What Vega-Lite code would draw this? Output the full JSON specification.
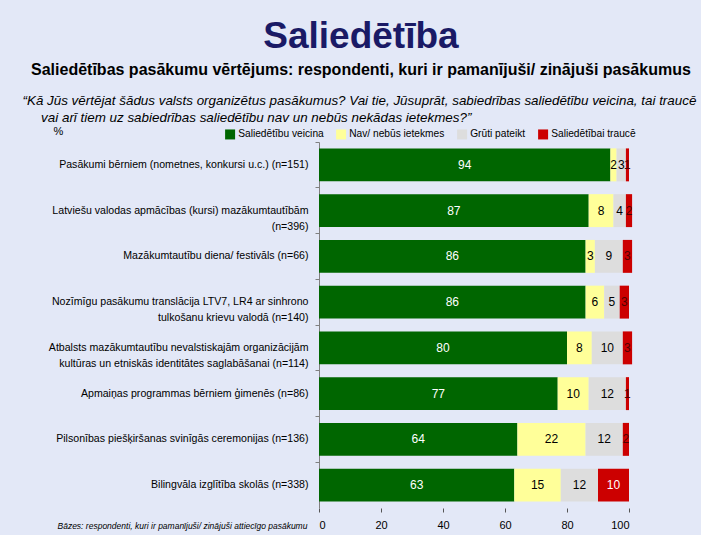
{
  "$schema": "https://vega.github.io/schema/vega-lite/v6.json",
  "width": 310,
  "height": 366,
  "padding": {"left": 22, "top": 18, "right": 5, "bottom": 5},
  "background": "#e3e8f7",
  "title": {
    "text": "Saliedētība",
    "subtitle": "Saliedētības pasākumu vērtējums: respondenti, kuri ir pamanījuši/ zinājuši pasākumus",
    "anchor": "middle",
    "frame": "bounds",
    "dx": 2,
    "font": "Liberation Sans",
    "fontSize": 37,
    "fontWeight": "bold",
    "color": "#1a1a66",
    "subtitleFont": "Liberation Sans",
    "subtitleFontSize": 16,
    "subtitleFontWeight": "bold",
    "subtitleColor": "#000000",
    "subtitlePadding": 6,
    "offset": 14
  },
  "data": {
    "values": [
      {"item": "Pasākumi bērniem (nometnes, konkursi u.c.) (n=151)", "cat": "Saliedētību veicina", "k": 1, "v": 94},
      {"item": "Pasākumi bērniem (nometnes, konkursi u.c.) (n=151)", "cat": "Nav/ nebūs ietekmes", "k": 2, "v": 2},
      {"item": "Pasākumi bērniem (nometnes, konkursi u.c.) (n=151)", "cat": "Grūti pateikt", "k": 3, "v": 3},
      {"item": "Pasākumi bērniem (nometnes, konkursi u.c.) (n=151)", "cat": "Saliedētībai traucē", "k": 4, "v": 1},
      {"item": "Latviešu valodas apmācības (kursi) mazākumtautībām\n(n=396)", "cat": "Saliedētību veicina", "k": 1, "v": 87},
      {"item": "Latviešu valodas apmācības (kursi) mazākumtautībām\n(n=396)", "cat": "Nav/ nebūs ietekmes", "k": 2, "v": 8},
      {"item": "Latviešu valodas apmācības (kursi) mazākumtautībām\n(n=396)", "cat": "Grūti pateikt", "k": 3, "v": 4},
      {"item": "Latviešu valodas apmācības (kursi) mazākumtautībām\n(n=396)", "cat": "Saliedētībai traucē", "k": 4, "v": 2},
      {"item": "Mazākumtautību diena/ festivāls (n=66)", "cat": "Saliedētību veicina", "k": 1, "v": 86},
      {"item": "Mazākumtautību diena/ festivāls (n=66)", "cat": "Nav/ nebūs ietekmes", "k": 2, "v": 3},
      {"item": "Mazākumtautību diena/ festivāls (n=66)", "cat": "Grūti pateikt", "k": 3, "v": 9},
      {"item": "Mazākumtautību diena/ festivāls (n=66)", "cat": "Saliedētībai traucē", "k": 4, "v": 3},
      {"item": "Nozīmīgu pasākumu translācija LTV7, LR4 ar sinhrono\ntulkošanu krievu valodā (n=140)", "cat": "Saliedētību veicina", "k": 1, "v": 86},
      {"item": "Nozīmīgu pasākumu translācija LTV7, LR4 ar sinhrono\ntulkošanu krievu valodā (n=140)", "cat": "Nav/ nebūs ietekmes", "k": 2, "v": 6},
      {"item": "Nozīmīgu pasākumu translācija LTV7, LR4 ar sinhrono\ntulkošanu krievu valodā (n=140)", "cat": "Grūti pateikt", "k": 3, "v": 5},
      {"item": "Nozīmīgu pasākumu translācija LTV7, LR4 ar sinhrono\ntulkošanu krievu valodā (n=140)", "cat": "Saliedētībai traucē", "k": 4, "v": 3},
      {"item": "Atbalsts mazākumtautību nevalstiskajām organizācijām\nkultūras un etniskās identitātes saglabāšanai (n=114)", "cat": "Saliedētību veicina", "k": 1, "v": 80},
      {"item": "Atbalsts mazākumtautību nevalstiskajām organizācijām\nkultūras un etniskās identitātes saglabāšanai (n=114)", "cat": "Nav/ nebūs ietekmes", "k": 2, "v": 8},
      {"item": "Atbalsts mazākumtautību nevalstiskajām organizācijām\nkultūras un etniskās identitātes saglabāšanai (n=114)", "cat": "Grūti pateikt", "k": 3, "v": 10},
      {"item": "Atbalsts mazākumtautību nevalstiskajām organizācijām\nkultūras un etniskās identitātes saglabāšanai (n=114)", "cat": "Saliedētībai traucē", "k": 4, "v": 3},
      {"item": "Apmaiņas programmas bērniem ģimenēs (n=86)", "cat": "Saliedētību veicina", "k": 1, "v": 77},
      {"item": "Apmaiņas programmas bērniem ģimenēs (n=86)", "cat": "Nav/ nebūs ietekmes", "k": 2, "v": 10},
      {"item": "Apmaiņas programmas bērniem ģimenēs (n=86)", "cat": "Grūti pateikt", "k": 3, "v": 12},
      {"item": "Apmaiņas programmas bērniem ģimenēs (n=86)", "cat": "Saliedētībai traucē", "k": 4, "v": 1},
      {"item": "Pilsonības piešķiršanas svinīgās ceremonijas (n=136)", "cat": "Saliedētību veicina", "k": 1, "v": 64},
      {"item": "Pilsonības piešķiršanas svinīgās ceremonijas (n=136)", "cat": "Nav/ nebūs ietekmes", "k": 2, "v": 22},
      {"item": "Pilsonības piešķiršanas svinīgās ceremonijas (n=136)", "cat": "Grūti pateikt", "k": 3, "v": 12},
      {"item": "Pilsonības piešķiršanas svinīgās ceremonijas (n=136)", "cat": "Saliedētībai traucē", "k": 4, "v": 2},
      {"item": "Bilingvāla izglītība skolās (n=338)", "cat": "Saliedētību veicina", "k": 1, "v": 63},
      {"item": "Bilingvāla izglītība skolās (n=338)", "cat": "Nav/ nebūs ietekmes", "k": 2, "v": 15},
      {"item": "Bilingvāla izglītība skolās (n=338)", "cat": "Grūti pateikt", "k": 3, "v": 12},
      {"item": "Bilingvāla izglītība skolās (n=338)", "cat": "Saliedētībai traucē", "k": 4, "v": 10}
    ]
  },
  "encoding": {
    "y": {
      "field": "item",
      "type": "nominal",
      "sort": null,
      "scale": {"paddingInner": 0, "paddingOuter": 0},
      "axis": {
        "title": "%",
        "titleAngle": 0,
        "titleX": -266,
        "titleY": -11,
        "titleAlign": "left",
        "titleBaseline": "middle",
        "titleFont": "Liberation Sans",
        "titleFontSize": 11,
        "titleFontWeight": "normal",
        "titleColor": "#000000",
        "labelExpr": "split(datum.label, '\\n')",
        "labelFont": "Liberation Sans",
        "labelFontSize": 10.6,
        "labelColor": "#000000",
        "labelLimit": 400,
        "labelPadding": 7,
        "labelLineHeight": 16,
        "bandPosition": 0,
        "tickSize": 4,
        "tickColor": "#808080",
        "domainColor": "#808080"
      }
    }
  },
  "layer": [
    {
      "mark": {"type": "bar", "height": {"band": 0.72}},
      "encoding": {
        "x": {
          "field": "v",
          "type": "quantitative",
          "stack": "zero",
          "scale": {"domain": [0, 100], "nice": false},
          "axis": {
            "orient": "bottom",
            "values": [0, 20, 40, 60, 80, 100],
            "domain": false,
            "grid": false,
            "tickSize": 4,
            "tickColor": "#555555",
            "labelFont": "Liberation Sans",
            "labelFontSize": 11,
            "labelColor": "#000000",
            "labelPadding": 7,
            "title": "Bāzes: respondenti, kuri ir pamanījuši/ zinājuši attiecīgo pasākumu",
            "titleFont": "Liberation Sans",
            "titleFontStyle": "italic",
            "titleFontWeight": "normal",
            "titleFontSize": 8.5,
            "titleColor": "#000000",
            "titleX": -262,
            "titleY": 17,
            "titleAlign": "left",
            "titleBaseline": "middle"
          }
        },
        "color": {
          "field": "cat",
          "type": "nominal",
          "scale": {
            "domain": ["Saliedētību veicina", "Nav/ nebūs ietekmes", "Grūti pateikt", "Saliedētībai traucē"],
            "range": ["#006600", "#ffff99", "#dddddd", "#cc0000"]
          },
          "legend": {
            "orient": "none",
            "legendX": -94,
            "legendY": -13,
            "direction": "horizontal",
            "title": null,
            "symbolType": "square",
            "symbolSize": 100,
            "symbolStrokeWidth": 0,
            "labelFont": "Liberation Sans",
            "labelFontSize": 10.2,
            "labelColor": "#000000",
            "labelOffset": 3,
            "columnPadding": 12
          }
        },
        "order": {"field": "k", "type": "quantitative"}
      }
    },
    {
      "mark": {"type": "text", "font": "Liberation Sans", "fontSize": 12, "align": "center", "baseline": "middle"},
      "encoding": {
        "x": {
          "field": "v",
          "type": "quantitative",
          "stack": "zero",
          "bandPosition": 0.5,
          "axis": {
            "orient": "top",
            "labels": false,
            "ticks": false,
            "domain": false,
            "grid": false,
            "title": ["“Kā Jūs vērtējat šādus valsts organizētus pasākumus? Vai tie, Jūsuprāt, sabiedrības saliedētību veicina, tai traucē", "\u200b\u00a0\u00a0\u00a0\u00a0\u00a0vai arī tiem uz sabiedrības saliedētību nav un nebūs nekādas ietekmes?”"],
            "titleFont": "Liberation Sans",
            "titleFontStyle": "italic",
            "titleFontWeight": "normal",
            "titleFontSize": 13.4,
            "titleColor": "#000000",
            "titleLineHeight": 17,
            "titleX": -297,
            "titleY": -49,
            "titleAlign": "left",
            "titleBaseline": "top"
          }
        },
        "detail": {"field": "cat"},
        "order": {"field": "k", "type": "quantitative"},
        "text": {"field": "v", "type": "quantitative"},
        "color": {
          "condition": [
            {"test": "datum.cat === 'Saliedētību veicina' || (datum.cat === 'Saliedētībai traucē' && datum.v >= 10)", "value": "#ffffff"},
            {"test": "datum.cat === 'Saliedētībai traucē'", "value": "#500000"}
          ],
          "value": "#000000"
        }
      }
    }
  ],
  "resolve": {"axis": {"x": "independent"}},
  "config": {"view": {"stroke": null}}
}
